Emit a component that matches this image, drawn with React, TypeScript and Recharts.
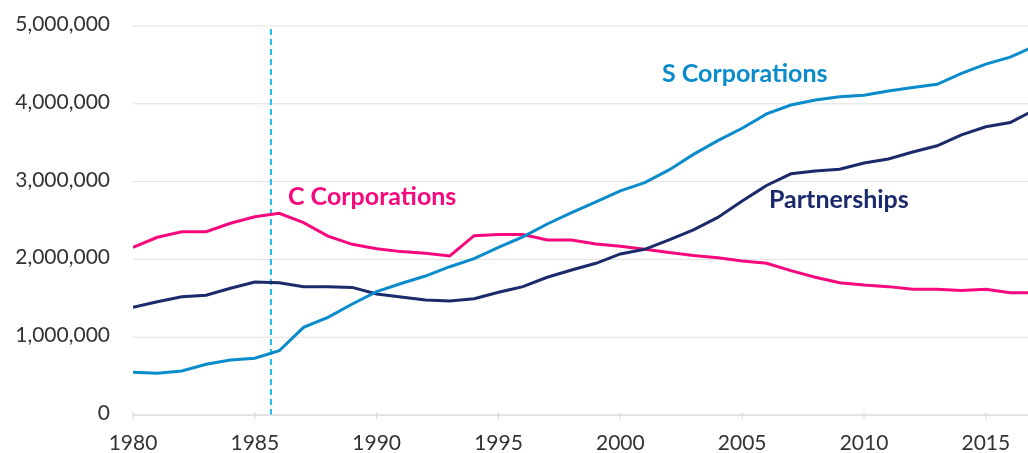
import React from "react";
import { LineChart, Line, XAxis, YAxis, CartesianGrid, ReferenceLine } from "recharts";

const years = [
  1980, 1981, 1982, 1983, 1984, 1985, 1986, 1987, 1988, 1989,
  1990, 1991, 1992, 1993, 1994, 1995, 1996, 1997, 1998, 1999,
  2000, 2001, 2002, 2003, 2004, 2005, 2006, 2007, 2008, 2009,
  2010, 2011, 2012, 2013, 2014, 2015, 2016, 2017,
];

const cCorporations = [
  2155000, 2284000, 2356000, 2356000, 2464000, 2549000, 2592000, 2472000, 2300000, 2194000,
  2138000, 2100000, 2078000, 2044000, 2305000, 2320000, 2320000, 2250000, 2250000, 2198000,
  2170000, 2130000, 2090000, 2050000, 2020000, 1980000, 1950000, 1855000, 1770000, 1700000,
  1670000, 1650000, 1615000, 1615000, 1600000, 1615000, 1570000, 1570000,
];

const partnerships = [
  1384000, 1456000, 1520000, 1540000, 1630000, 1710000, 1700000, 1650000, 1650000, 1640000,
  1555000, 1517000, 1478000, 1465000, 1494000, 1577000, 1650000, 1770000, 1864000, 1950000,
  2070000, 2130000, 2250000, 2380000, 2540000, 2750000, 2950000, 3100000, 3136000, 3160000,
  3240000, 3290000, 3380000, 3460000, 3600000, 3705000, 3760000, 3920000,
];

const sCorporations = [
  549000, 536000, 566000, 652000, 707000, 729000, 826000, 1127000, 1256000, 1427000,
  1585000, 1690000, 1786000, 1906000, 2010000, 2155000, 2290000, 2455000, 2600000, 2740000,
  2880000, 2986000, 3150000, 3350000, 3526000, 3685000, 3870000, 3985000, 4050000, 4090000,
  4110000, 4165000, 4210000, 4250000, 4390000, 4510000, 4600000, 4740000,
];

const xTicks = [1980, 1985, 1990, 1995, 2000, 2005, 2010, 2015];
const yTicks = [0, 1000000, 2000000, 3000000, 4000000, 5000000];
const taxReformYear = 1985.66;

const data = years.map((year, i) => ({
  year,
  c: cCorporations[i],
  p: partnerships[i],
  s: sCorporations[i],
}));

const PINK = "#f7087c";
const NAVY = "#1b2a6b";
const BLUE = "#0a8bcb";
const FONT = "Lato, 'Open Sans', sans-serif";

const XTick = (props: any) => {
  const { x, y, payload } = props;
  return (
    <g>
      <line x1={x} x2={x} y1={y - 3} y2={y + 4} stroke="#d6d6d6" strokeWidth={1} />
      <text x={x} y={y + 35} textAnchor="middle" fill="#333" fontSize={21} fontFamily={FONT}>
        {payload.value}
      </text>
    </g>
  );
};

const YTick = (props: any) => {
  const { x, y, payload } = props;
  return (
    <text x={x - 23} y={y + 5} textAnchor="end" fill="#333" fontSize={21} fontFamily={FONT}>
      {Number(payload.value).toLocaleString("en-US")}
    </text>
  );
};

export default function App() {
  return (
    <div style={{ position: "fixed", left: 0, top: 0, width: 1028, height: 453, overflow: "hidden" }}>
      <LineChart
        width={1028}
        height={453}
        data={data}
        margin={{ top: 26, right: 0, left: 0, bottom: 0 }}
      >
        <CartesianGrid vertical={false} stroke="#e0e0e0" strokeWidth={1} />
        <XAxis
          dataKey="year"
          type="number"
          domain={[1980, 2016.73]}
          allowDataOverflow
          ticks={xTicks}
          tick={<XTick />}
          tickLine={false}
          tickSize={0}
          tickMargin={0}
          height={38}
          axisLine={{ stroke: "#d6d6d6", strokeWidth: 1 }}
        />
        <YAxis
          domain={[0, 5000000]}
          ticks={yTicks}
          tick={<YTick />}
          tickLine={false}
          tickSize={0}
          tickMargin={0}
          axisLine={false}
          width={133}
        />
        <ReferenceLine x={taxReformYear} stroke="#22b8e8" strokeWidth={2} strokeDasharray="6 4" />
        <Line type="linear" dataKey="c" stroke={PINK} strokeWidth={3} dot={false} isAnimationActive={false} />
        <Line type="linear" dataKey="p" stroke={NAVY} strokeWidth={3} dot={false} isAnimationActive={false} />
        <Line type="linear" dataKey="s" stroke={BLUE} strokeWidth={3} dot={false} isAnimationActive={false} />
      </LineChart>
      <svg
        width={1028}
        height={453}
        style={{ position: "absolute", left: 0, top: 0, pointerEvents: "none" }}
      >
        <text x={662} y={82} fill={BLUE} fontSize={25} fontWeight={700} fontFamily={FONT}>
          S Corporations
        </text>
        <text x={288} y={205} fill={PINK} fontSize={25} fontWeight={700} fontFamily={FONT}>
          C Corporations
        </text>
        <text x={769} y={208} fill={NAVY} fontSize={25} fontWeight={700} fontFamily={FONT}>
          Partnerships
        </text>
      </svg>
    </div>
  );
}
